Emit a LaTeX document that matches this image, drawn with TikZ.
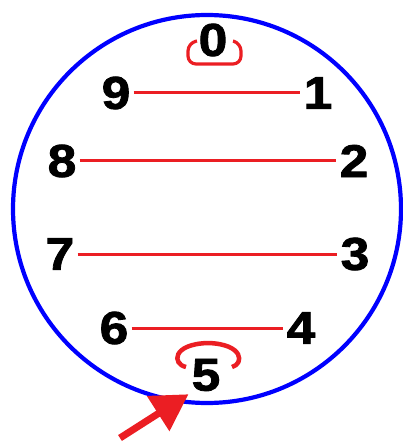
\documentclass[tikz,border=0pt]{standalone}
\usepackage{fontspec}
\setmainfont{Liberation Sans}
\newfontfamily\digitfont{Liberation Sans}[FakeBold=1.8,FakeStretch=1.12]
\usetikzlibrary{arrows.meta}
\definecolor{dialblue}{RGB}{0,0,255}
\definecolor{markred}{RGB}{235,30,35}
\tikzset{
  digit/.style={font=\fontsize{46}{46}\selectfont\digitfont\bfseries, inner sep=3pt},
  pair/.style={markred, line width=3pt},
  loop/.style={markred, line width=3.2pt, rounded corners=8pt}
}
\begin{document}
\begin{tikzpicture}[x=1pt,y=-1pt,>=Stealth]
    \useasboundingbox (0,0) rectangle (403,446);

    % dial outline
    \draw[dialblue,line width=4.2pt] (207,209) circle (194);

    % digits
    \node[digit] (n0) at (213,40) {0};
    \node[digit] (n1) at (318,93) {1};
    \node[digit] (n2) at (354,161) {2};
    \node[digit] (n3) at (355,254) {3};
    \node[digit] (n4) at (301,328) {4};
    \node[digit] (n5) at (206,375) {5};
    \node[digit] (n6) at (114,328) {6};
    \node[digit] (n7) at (60,254) {7};
    \node[digit] (n8) at (62,161) {8};
    \node[digit] (n9) at (116,93) {9};

    % pairs joined across the dial
    \draw[pair] (n9.east) -- (n9.east -| n1.west);
    \draw[pair] (n8.east) -- (n8.east -| n2.west);
    \draw[pair] (n7.east) -- (n7.east -| n3.west);
    \draw[pair] (n6.east) -- (n6.east -| n4.west);

    % loop under 0
    \draw[loop] (197,41) -- (188,43) -- (188,64) -- (241,64) -- (241,43) -- (233,41);

    % loop over 5
    \draw[markred,line width=4.5pt] (186,367) .. controls (172,364) and (172,344) .. (208,343)
        .. controls (244,344) and (244,364) .. (232,367);

    % pointer to 5
    \coordinate (tail) at (120,438);
    \draw[markred,line width=7pt,-{Triangle[length=36pt,width=40pt]}] (tail) -- (n5.south west);
\end{tikzpicture}
\end{document}
